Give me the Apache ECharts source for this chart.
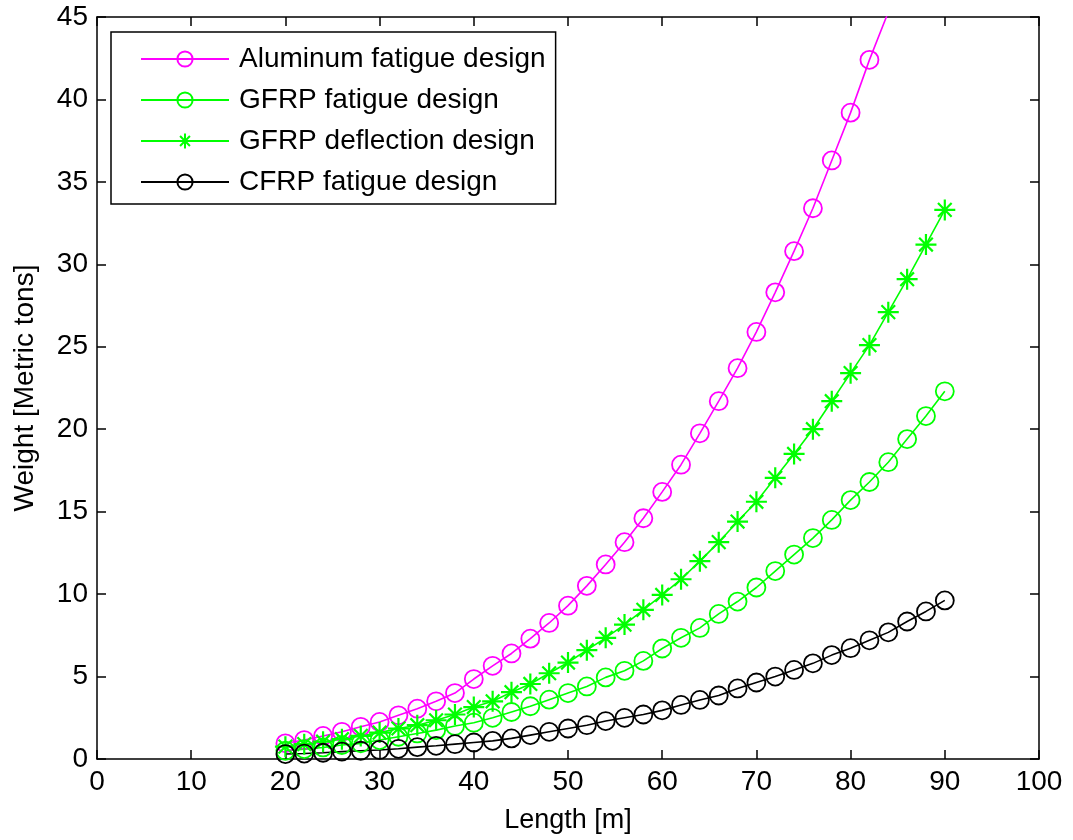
<!DOCTYPE html>
<html>
<head>
<meta charset="utf-8">
<title>Weight vs Length</title>
<script src="https://cdn.jsdelivr.net/npm/echarts@6/dist/echarts.min.js"></script>
<style>
  html, body { margin: 0; padding: 0; background: #fff; }
  #main { width: 1073px; height: 840px; }
</style>
</head>
<body>
<div id="main"></div>
<script>
// 长度 (m)
var lengths = [20, 22, 24, 26, 28, 30, 32, 34, 36, 38, 40, 42, 44, 46, 48, 50, 52, 54,
  56, 58, 60, 62, 64, 66, 68, 70, 72, 74, 76, 78, 80, 82, 84, 86, 88, 90];

// 各方案重量 (metric tons)
var aluminumFatigue = [0.95, 1.15, 1.4, 1.65, 1.95, 2.25, 2.65, 3.05, 3.5, 4.0, 4.85, 5.65,
  6.4, 7.3, 8.25, 9.3, 10.5, 11.8, 13.15, 14.6, 16.2, 17.85, 19.75, 21.7, 23.7, 25.9,
  28.3, 30.8, 33.4, 36.3, 39.2, 42.4, 45.3];
var gfrpFatigue = [0.5, 0.6, 0.7, 0.85, 0.95, 1.15, 1.35, 1.55, 1.75, 2.0, 2.2, 2.5,
  2.85, 3.2, 3.6, 4.0, 4.4, 4.95, 5.35, 5.95, 6.7, 7.35, 7.95, 8.8, 9.55, 10.4,
  11.4, 12.4, 13.4, 14.5, 15.7, 16.8, 18.0, 19.4, 20.8, 22.3];
var gfrpDeflection = [0.75, 0.9, 1.05, 1.2, 1.4, 1.6, 1.85, 2.05, 2.35, 2.7, 3.15, 3.5,
  4.05, 4.55, 5.2, 5.85, 6.6, 7.35, 8.15, 9.05, 9.95, 10.9, 12.0, 13.15, 14.4, 15.6,
  17.05, 18.5, 20.0, 21.7, 23.4, 25.1, 27.1, 29.1, 31.2, 33.3];
var cfrpFatigue = [0.3, 0.33, 0.38, 0.45, 0.5, 0.55, 0.62, 0.72, 0.8, 0.9, 1.0, 1.1,
  1.25, 1.45, 1.65, 1.85, 2.05, 2.3, 2.5, 2.7, 2.95, 3.28, 3.58, 3.85, 4.28, 4.64,
  5.0, 5.4, 5.8, 6.3, 6.72, 7.2, 7.68, 8.34, 8.95, 9.62];

var seriesNames = ['Aluminum fatigue design', 'GFRP fatigue design', 'GFRP deflection design', 'CFRP fatigue design'];

var FONT = '"Liberation Sans", Arial, sans-serif';
var STAR = 'path://M0,-10L0,10M-10,0L10,0M-6.5,-6.5L6.5,6.5M-6.5,6.5L6.5,-6.5';

/**
 * 组合 [x, y] 数据
 */
function pairs(values) {
  var out = [];
  for (var i = 0; i < values.length; i++) {
    out.push([lengths[i], values[i]]);
  }
  return out;
}

function makeSeries(name, values, color, symbol) {
  var isStar = symbol == STAR;
  return {
    name: name,
    type: 'line',
    data: pairs(values),
    symbol: symbol,
    symbolSize: isStar ? 21 : 18,
    showAllSymbol: true,
    clip: true,
    color: color,
    lineStyle: { color: color, width: 1.6 },
    itemStyle: {
      color: isStar ? color : 'rgba(0,0,0,0)',
      borderColor: color,
      borderWidth: isStar ? 2.2 : 1.8
    },
    emphasis: { disabled: true },
    animation: false
  };
}

var chart = echarts.init(document.getElementById('main'), null, { renderer: 'canvas' });

// 四周边框 + 向内刻度
var axisLine = { show: true, onZero: false, lineStyle: { color: '#000', width: 1.5 } };
var axisTick = { show: true, inside: true, length: 9, lineStyle: { color: '#000', width: 1.5 } };

var option = {
  backgroundColor: '#fff',
  animation: false,
  grid: { left: 97, right: 34, top: 17, bottom: 81, containLabel: false },
  legend: {
    left: 111,
    top: 32,
    orient: 'vertical',
    data: seriesNames,
    itemWidth: 88,
    itemHeight: 19,
    itemGap: 13,
    padding: [13, 10, 8, 29],
    borderColor: '#000',
    borderWidth: 1.5,
    borderRadius: 0,
    backgroundColor: '#fff',
    selectedMode: false,
    textStyle: { fontFamily: FONT, fontSize: 28, color: '#000', lineHeight: 28, padding: [0, 0, 0, 5] }
  },
  xAxis: [{
    type: 'value',
    min: 0, max: 100, interval: 10,
    name: 'Length [m]',
    nameLocation: 'middle',
    nameGap: 48,
    nameTextStyle: { fontFamily: FONT, fontSize: 27, color: '#000' },
    axisLine: axisLine,
    axisTick: axisTick,
    splitLine: { show: false },
    axisLabel: { fontFamily: FONT, fontSize: 28, color: '#000', margin: 9 }
  }, {
    type: 'value',
    position: 'top',
    min: 0, max: 100, interval: 10,
    axisLine: axisLine,
    axisTick: axisTick,
    splitLine: { show: false },
    axisLabel: { show: false }
  }],
  yAxis: [{
    type: 'value',
    min: 0, max: 45, interval: 5,
    name: 'Weight [Metric tons]',
    nameLocation: 'middle',
    nameGap: 58,
    nameRotate: 90,
    nameTextStyle: { fontFamily: FONT, fontSize: 28, color: '#000' },
    axisLine: axisLine,
    axisTick: axisTick,
    splitLine: { show: false },
    axisLabel: { fontFamily: FONT, fontSize: 28, color: '#000', margin: 9 }
  }, {
    type: 'value',
    position: 'right',
    min: 0, max: 45, interval: 5,
    axisLine: axisLine,
    axisTick: axisTick,
    splitLine: { show: false },
    axisLabel: { show: false }
  }],
  series: [
    makeSeries(seriesNames[0], aluminumFatigue, '#ff00ff', 'circle'),
    makeSeries(seriesNames[1], gfrpFatigue, '#00ff00', 'circle'),
    makeSeries(seriesNames[2], gfrpDeflection, '#00ff00', STAR),
    makeSeries(seriesNames[3], cfrpFatigue, '#000000', 'circle')
  ]
};

chart.setOption(option);
</script>
</body>
</html>
